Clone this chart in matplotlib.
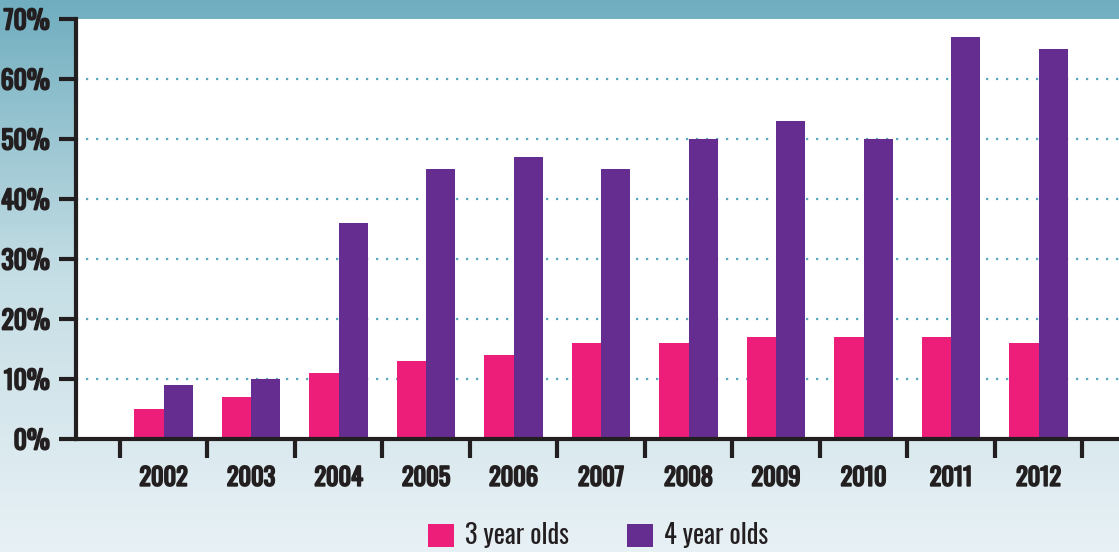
import numpy as np
import matplotlib
matplotlib.use("Agg")
import matplotlib.pyplot as plt
import matplotlib.patheffects as pe
from matplotlib.colors import LinearSegmentedColormap

years = ["2002", "2003", "2004", "2005", "2006", "2007", "2008", "2009", "2010", "2011", "2012"]
three_year_olds = [5, 7, 11, 13, 14, 16, 16, 17, 17, 17, 16]
four_year_olds = [9, 10, 36, 45, 47, 45, 50, 53, 50, 67, 65]
y_ticks = [0, 10, 20, 30, 40, 50, 60, 70]
y_labels = ["0%", "10%", "20%", "30%", "40%", "50%", "60%", "70%"]
series_names = ["3 year olds", "4 year olds"]

PINK = "#EC1E79"
PURPLE = "#662D91"
DARK = "#231F20"
GRID = "#5AA8BC"

plt.rcParams["font.family"] = ["Oswald", "DejaVu Sans"]

W, H = 1119, 552
fig = plt.figure(figsize=(W / 100, H / 100), dpi=100)

bg = fig.add_axes([0, 0, 1, 1], zorder=-10)
cmap = LinearSegmentedColormap.from_list("bg", ["#70AEBF", "#C5DEE5", "#E8F1F5"])
grad = np.linspace(0, 1, 256).reshape(-1, 1)
bg.imshow(grad, aspect="auto", cmap=cmap, extent=[0, 1, 0, 1], origin="upper")
bg.set_axis_off()

left, right, top, bottom = 76, 1119, 19, 439
ax = fig.add_axes([left / W, 1 - bottom / H, (right - left) / W, (bottom - top) / H])
ax.set_facecolor("white")

x = np.arange(len(years))
bw = 0.337
ax.bar(x - bw / 2, three_year_olds, width=bw, color=PINK, label=series_names[0], zorder=3)
ax.bar(x + bw / 2, four_year_olds, width=bw, color=PURPLE, label=series_names[1], zorder=3)

ax.set_xlim(-1.0, 10.92)
ax.set_ylim(0, 70)

bold = [pe.withStroke(linewidth=1.3, foreground=DARK)]
ax.set_yticks(y_ticks)
ax.set_yticklabels(y_labels, fontsize=18.5, color=DARK, path_effects=bold)
ax.set_xticks(np.arange(len(years) + 1) - 0.5)
ax.set_xticklabels([])
ax.set_xticks(x, minor=True)
ax.set_xticklabels(years, minor=True, fontsize=17.5, color=DARK, path_effects=bold)
ax.tick_params(axis="x", which="major", length=14, width=3, color=DARK, direction="out")
ax.tick_params(axis="x", which="minor", length=0, pad=20)
ax.tick_params(axis="y", length=12, width=3, color=DARK, direction="out", pad=7)

for v in y_ticks[1:-1]:
    ax.axhline(v, color=GRID, linestyle=(0, (1, 3.5)), linewidth=1.6, zorder=1)

for s in ["top", "right"]:
    ax.spines[s].set_visible(False)
for s in ["left", "bottom"]:
    ax.spines[s].set_color(DARK)
    ax.spines[s].set_linewidth(3)
    ax.spines[s].set_zorder(4)

leg = fig.legend(loc="center", bbox_to_anchor=(598 / W, 1 - 536 / H), ncol=2, frameon=False,
                 fontsize=19, handlelength=1.0, handleheight=1.0, handletextpad=0.4,
                 columnspacing=2.2, labelcolor=DARK)

fig.savefig("out.png", dpi=100)
